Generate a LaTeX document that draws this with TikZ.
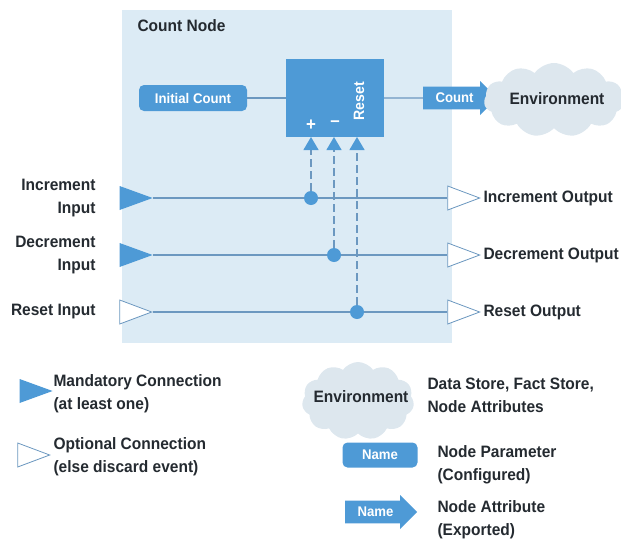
\documentclass[tikz,border=0pt]{standalone}
\usepackage{fontspec}
\setmainfont{Liberation Sans}[FakeStretch=0.94]
\usetikzlibrary{shapes.geometric, shapes.symbols, shapes.arrows, arrows.meta}
\definecolor{nodeblue}{RGB}{78,154,214}
\definecolor{panelblue}{RGB}{220,235,245}
\definecolor{cloudgray}{RGB}{221,231,238}
\definecolor{wireblue}{RGB}{108,152,192}
\definecolor{inkgray}{RGB}{36,42,48}

\begin{document}
\begin{tikzpicture}[x=1pt, y=-1pt, text=inkgray,
    font=\bfseries\fontsize{16.5}{23}\selectfont,
    panel/.style={fill=panelblue, minimum width=330pt, minimum height=333pt, inner sep=0pt},
    counter/.style={fill=nodeblue, minimum width=98pt, minimum height=78pt, inner sep=0pt},
    param/.style={fill=nodeblue, rounded corners=5pt, text=white, inner sep=0pt,
        font=\bfseries\fontsize{14}{16}\selectfont},
    attr/.style={single arrow, fill=nodeblue, text=white, inner xsep=0pt, inner ysep=5pt,
        single arrow head extend=5pt, minimum width=34pt,
        font=\bfseries\fontsize{14}{16}\selectfont},
    env/.style={cloud, cloud puffs=11, cloud puff arc=110, cloud ignores aspect,
        fill=cloudgray, inner sep=0pt},
    mand/.style={isosceles triangle, isosceles triangle stretches, fill=nodeblue,
        minimum width=24pt, minimum height=33pt, inner sep=0pt},
    opt/.style={isosceles triangle, isosceles triangle stretches, fill=white,
        draw=wireblue, line width=0.8pt, minimum width=24pt, minimum height=32pt, inner sep=0pt},
    dot/.style={circle, fill=nodeblue, minimum size=14pt, inner sep=0pt},
    wire/.style={draw=wireblue, line width=1.2pt},
    port/.style={wire, dash pattern=on 8pt off 4pt,
        -{Triangle[width=15pt, length=13pt, color=nodeblue]}}]
    \useasboundingbox (0,0) rectangle (621,541);

    % Count node
    \node[panel] (countnode) at (287,176.5) {};
    \node[anchor=north west] (title) at (134,16) {Count Node};
    \node[counter] (counter) at (335,98) {};
    \node[text=white, font=\bfseries\fontsize{18}{18}\selectfont] (plus) at (311,125) {+};
    \node[text=white, font=\bfseries\fontsize{18}{18}\selectfont] (minus) at (335,124) {–};
    \node[text=white, rotate=90, font=\bfseries\fontsize{15}{15}\selectfont] (reset) at (359,101) {Reset};
    \node[param, minimum width=108pt, minimum height=26pt] (init) at (193,98) {Initial Count};
    \node[attr, minimum height=74pt, anchor=west] (count) at (423,98) {Count};
    \node[env, minimum width=140pt, minimum height=74pt] (envir) at (554,100) {};
    \node (envtext) at (557,99) {Environment};

    % Ports on the counter
    \coordinate (incport) at (311,137);
    \coordinate (decport) at (334,137);
    \coordinate (resport) at (357,137);

    % Inputs and outputs
    \node[mand] (incin) at (128,198) {};
    \node[dot] (incdot) at (311,198) {};
    \node[opt] (incout) at (456,198) {};
    \node[mand] (decin) at (128,255) {};
    \node[dot] (decdot) at (334,255) {};
    \node[opt] (decout) at (456,255) {};
    \node[opt] (resin) at (128,312) {};
    \node[dot] (resdot) at (357,312) {};
    \node[opt] (resout) at (456,312) {};

    \node[anchor=east, align=right] (inclbl) at (99,198) {Increment\\Input};
    \node[anchor=east, align=right] (declbl) at (99,255) {Decrement\\Input};
    \node[anchor=east] (reslbl) at (99,312) {Reset Input};
    \node[anchor=west] (incoutlbl) at (480,198) {Increment Output};
    \node[anchor=west] (decoutlbl) at (480,255) {Decrement Output};
    \node[anchor=west] (resoutlbl) at (480,312) {Reset Output};

    % Wires
    \draw[wire] (init) -- (counter);
    \draw[wire] (counter) -- (count);
    \draw[wire] (incin.apex) -- (incdot) -- (incout);
    \draw[wire] (decin.apex) -- (decdot) -- (decout);
    \draw[wire] (resin.apex) -- (resdot) -- (resout);
    \draw[port] (incdot) -- (incport);
    \draw[port] (decdot) -- (decport);
    \draw[port] (resdot) -- (resport);

    % Key
    \node[mand] (mandkey) at (28,391) {};
    \node[anchor=west, align=left] (mandtext) at (50,394) {Mandatory Connection\\(at least one)};
    \node[opt] (optkey) at (26,455) {};
    \node[anchor=west, align=left] (opttext) at (50,457) {Optional Connection\\(else discard event)};
    \node[env, minimum width=112pt, minimum height=78pt] (envkey) at (358,401) {};
    \node (envkeytext) at (361,397) {Environment};
    \node[anchor=west, align=left] (envkeylbl) at (424,395) {Data Store, Fact Store,\\Node Attributes};
    \node[param, minimum width=75pt, minimum height=25pt] (paramkey) at (380,455) {Name};
    \node[anchor=west, align=left] (paramlbl) at (434,465) {Node Parameter\\(Configured)};
    \node[attr, minimum height=72pt, anchor=west] (attrkey) at (345,512) {Name};
    \node[anchor=west, align=left] (attrlbl) at (434,520) {Node Attribute\\(Exported)};
\end{tikzpicture}
\end{document}
